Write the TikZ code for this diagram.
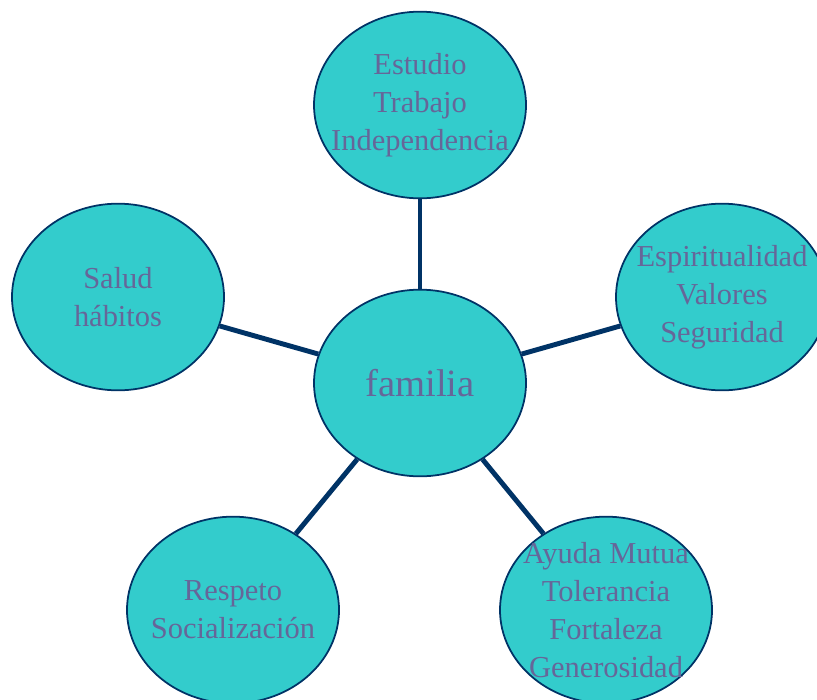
\documentclass[tikz,border=0pt]{standalone}
\usepackage{fontspec}
\setmainfont{Liberation Serif}
\usetikzlibrary{shapes.geometric}
\definecolor{turquesa}{HTML}{33CCCC}
\definecolor{azuloscuro}{HTML}{003366}
\definecolor{lila}{HTML}{666699}
\tikzset{
  burbuja/.style={ellipse, draw=azuloscuro, line width=1.5pt, fill=turquesa,
    minimum width=6.36cm, minimum height=5.6cm, inner sep=0pt},
  texto/.style={align=center, text=lila, inner sep=0pt,
    font=\fontsize{26}{32.3}\selectfont},
  rayo/.style={draw=azuloscuro, line width=4.2pt}
}
\begin{document}
\begin{tikzpicture}[x=0.03cm, y=-0.03cm]
      \useasboundingbox (0,0) rectangle (817,699);
      \node[burbuja] (fam)  at  (420, 383){};
      \node[burbuja] (est)  at  (420, 105){};
      \node[burbuja] (sal)  at  (118, 297){};
      \node[burbuja] (esp)  at  (722, 297){};
      \node[burbuja] (res)  at  (233, 610){};
      \node[burbuja] (ayu)  at  (606, 610){};

      \draw[rayo] (fam) -- (est);
      \draw[rayo] (fam) -- (sal);
      \draw[rayo] (fam) -- (esp);
      \draw[rayo] (fam) -- (res);
      \draw[rayo] (fam) -- (ayu);

      \node[texto, font=\fontsize{33}{40}\selectfont] (tfam) at (fam.center){familia};
      \node[texto] (test) at (est.center){Estudio\\Trabajo\\Independencia};
      \node[texto] (tsal) at (sal.center){Salud\\hábitos};
      \node[texto] (tesp) at (esp.center){Espiritualidad\\Valores\\Seguridad};
      \node[texto] (tres) at (res.center){Respeto\\Socialización};
      \node[texto] (tayu) at (ayu.center){Ayuda Mutua\\Tolerancia\\Fortaleza\\Generosidad};
    \end{tikzpicture}
\end{document}
